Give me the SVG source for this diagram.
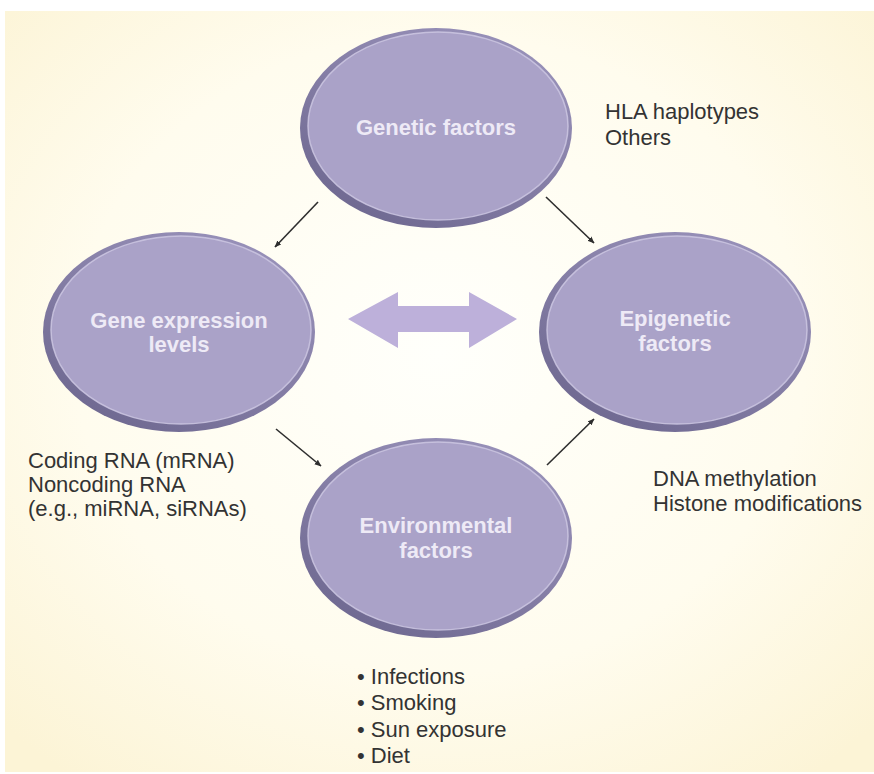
<svg xmlns="http://www.w3.org/2000/svg" width="874" height="774" viewBox="0 0 874 774">
<style>
.lbl{font-family:"Liberation Sans",Arial,sans-serif;font-size:22px;font-weight:bold;fill:#eeeaf6;text-anchor:middle}
.txt{font-family:"Liberation Sans",Arial,sans-serif;font-size:22px;fill:#333333}
.rim{fill:url(#rimGrad)}
.face{fill:#aaa2c8;stroke:#cdc7e2;stroke-width:1.5;stroke-opacity:0.85}
.conn{stroke:#2e2e2e;stroke-width:1.6;fill:none;marker-end:url(#ah)}
</style>
<defs>
<radialGradient id="bg" cx="0.5" cy="0.45" r="0.7">
<stop offset="0" stop-color="#fffffb"/>
<stop offset="0.6" stop-color="#fffcee"/>
<stop offset="1" stop-color="#fcf4d6"/>
</radialGradient>
<linearGradient id="rimGrad" x1="0.15" y1="1" x2="0.85" y2="0">
<stop offset="0" stop-color="#6c668e"/>
<stop offset="0.5" stop-color="#857ea6"/>
<stop offset="1" stop-color="#9a93bb"/>
</linearGradient>
<marker id="ah" viewBox="0 0 10 10" refX="9" refY="5" markerWidth="7" markerHeight="7" orient="auto" markerUnits="userSpaceOnUse">
<path d="M0,1 L10,5 L0,9 Z" fill="#2e2e2e"/>
</marker>
</defs>
<rect x="0" y="0" width="874" height="774" fill="#ffffff"/>
<rect x="5" y="11" width="869" height="761" fill="url(#bg)"/>

<g id="genetic">
<ellipse class="rim" cx="436" cy="128" rx="136" ry="100"/>
<ellipse class="face" cx="438" cy="126" rx="130" ry="94"/>
<text class="lbl" x="436" y="135">Genetic factors</text>
</g>
<g id="gene-expression">
<ellipse class="rim" cx="179" cy="332" rx="136" ry="100"/>
<ellipse class="face" cx="181" cy="330" rx="130" ry="94"/>
<text class="lbl" x="179" y="328">Gene expression</text>
<text class="lbl" x="179" y="352">levels</text>
</g>
<g id="epigenetic">
<ellipse class="rim" cx="675" cy="332" rx="136" ry="100"/>
<ellipse class="face" cx="677" cy="330" rx="130" ry="94"/>
<text class="lbl" x="675" y="326">Epigenetic</text>
<text class="lbl" x="675" y="351">factors</text>
</g>
<g id="environmental">
<ellipse class="rim" cx="436" cy="538" rx="136" ry="100"/>
<ellipse class="face" cx="438" cy="536" rx="130" ry="94"/>
<text class="lbl" x="436" y="533">Environmental</text>
<text class="lbl" x="436" y="558">factors</text>
</g>

<g id="connectors">
<line class="conn" x1="318" y1="202" x2="275" y2="247"/>
<line class="conn" x1="546" y1="197" x2="594" y2="243"/>
<line class="conn" x1="276" y1="429" x2="321" y2="466"/>
<line class="conn" x1="547" y1="465" x2="594" y2="419"/>
<polygon id="double-arrow" points="348,319 398,292 398,306 469,306 469,292 517,319 469,348 469,332 398,332 398,348" fill="#bdb0da"/>
</g>

<g id="genetic-notes">
<text class="txt" x="605" y="119">HLA haplotypes</text>
<text class="txt" x="605" y="145">Others</text>
</g>
<g id="expression-notes">
<text class="txt" x="28" y="468">Coding RNA (mRNA)</text>
<text class="txt" x="28" y="492">Noncoding RNA</text>
<text class="txt" x="28" y="516">(e.g., miRNA, siRNAs)</text>
</g>
<g id="epigenetic-notes">
<text class="txt" x="653" y="486">DNA methylation</text>
<text class="txt" x="653" y="511">Histone modifications</text>
</g>
<g id="environment-notes">
<text class="txt" x="357" y="684">• Infections</text>
<text class="txt" x="357" y="710">• Smoking</text>
<text class="txt" x="357" y="737">• Sun exposure</text>
<text class="txt" x="357" y="763">• Diet</text>
</g>
</svg>
